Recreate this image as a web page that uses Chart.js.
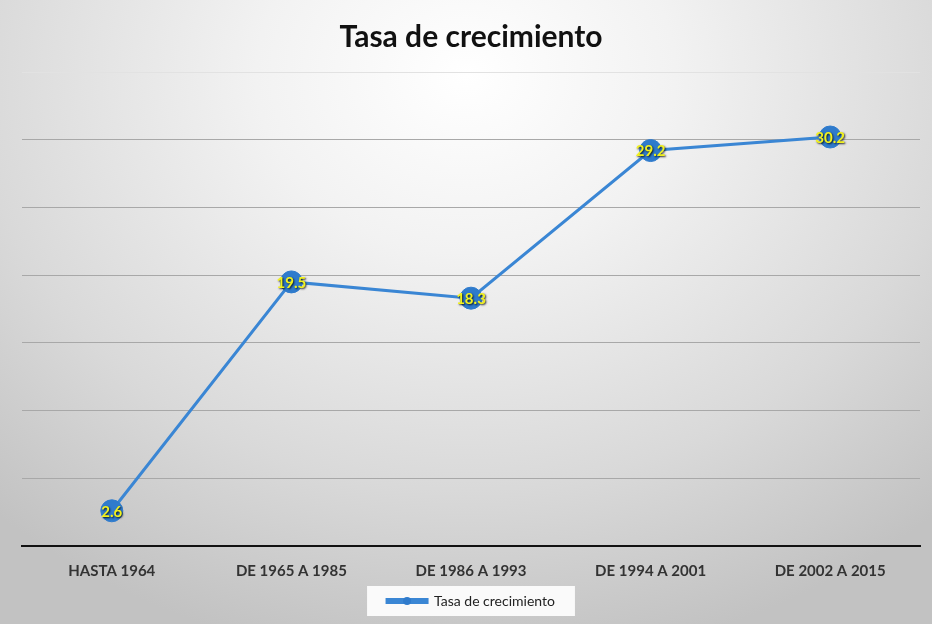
<!DOCTYPE html>
<html>
<head>
<meta charset="utf-8">
<script src="https://cdn.jsdelivr.net/npm/chart.js@4.4.0/dist/chart.umd.min.js"></script>
<style>
  html, body { margin: 0; padding: 0; }
  body { width: 932px; height: 624px; overflow: hidden; background: #d6d6d6; }
  #wrap {
    position: absolute; left: 0; top: 0; width: 932px; height: 624px;
    background: radial-gradient(ellipse 75% 95% at 50% 12%, #ffffff 0%, #f2f2f2 30%, #d9d9d9 70%, #c2c2c2 100%);
  }
  canvas { display: block; }
</style>
</head>
<body>
<div id="wrap"><canvas id="grafico" width="932" height="624"></canvas></div>
<script>
// Datos del gráfico
const categorias = ["HASTA 1964", "DE 1965 A 1985", "DE 1986 A 1993", "DE 1994 A 2001", "DE 2002 A 2015"];
const tasa = [2.6, 19.5, 18.3, 29.2, 30.2];

const azul = "#2f7bcc";
const fuente = "Lato, 'Open Sans', sans-serif";

// Etiquetas amarillas sobre cada punto
const etiquetas = {
  id: "etiquetas",
  afterDatasetsDraw(chart) {
    const ctx = chart.ctx;
    const meta = chart.getDatasetMeta(0);
    ctx.save();
    ctx.font = "bold 15px " + fuente;
    ctx.textAlign = "center";
    ctx.textBaseline = "middle";
    ctx.shadowColor = "rgba(0,0,0,0.85)";
    ctx.shadowBlur = 2;
    ctx.shadowOffsetX = 1;
    ctx.shadowOffsetY = 1;
    ctx.fillStyle = "#f2f21e";
    meta.data.forEach(function (p, i) {
      ctx.fillText(String(tasa[i]), p.x, p.y + 1);
    });
    ctx.restore();
  }
};

// Fondo blanco de la leyenda y marcador redondo
const leyenda = {
  id: "leyenda",
  beforeDraw(chart) {
    const box = chart.legend.legendHitBoxes[0];
    if (!box) return;
    const ctx = chart.ctx;
    ctx.save();
    ctx.fillStyle = "rgba(255,255,255,0.9)";
    ctx.fillRect(box.left - 20, box.top - 8, box.width + 40, box.height + 16);
    ctx.restore();
  },
  afterDraw(chart) {
    const box = chart.legend.legendHitBoxes[0];
    if (!box) return;
    const ctx = chart.ctx;
    ctx.save();
    ctx.fillStyle = azul;
    ctx.beginPath();
    ctx.arc(box.left + 20, box.top + box.height / 2, 4, 0, Math.PI * 2);
    ctx.fill();
    ctx.restore();
  }
};

new Chart("grafico", {
  type: "line",
  data: {
    labels: categorias,
    datasets: [{
      label: "Tasa de crecimiento",
      data: tasa,
      borderColor: "#3a86d4",
      backgroundColor: azul,
      borderWidth: 3,
      pointRadius: 11,
      pointBackgroundColor: azul,
      pointBorderColor: azul,
      pointBorderWidth: 1,
      tension: 0
    }]
  },
  options: {
    responsive: false,
    animation: false,
    layout: { padding: { top: 5, left: 22, right: 12, bottom: 6 } },
    plugins: {
      title: {
        display: true,
        text: "Tasa de crecimiento",
        color: "#111",
        font: { family: fuente, size: 30, weight: "bold" },
        padding: { top: 14, bottom: 17 }
      },
      legend: {
        position: "bottom",
        labels: {
          color: "#222",
          font: { family: fuente, size: 14 },
          boxWidth: 40,
          boxHeight: 3,
          padding: 10
        }
      },
      tooltip: { enabled: false }
    },
    scales: {
      x: {
        offset: true,
        grid: { display: false, drawTicks: false, offset: true },
        border: { display: true, color: "#111", width: 2 },
        ticks: {
          color: "#333",
          font: { family: fuente, size: 15, weight: "bold" },
          padding: 16
        },
        afterFit: function (axis) { axis.height = 38; }
      },
      y: {
        min: 0,
        max: 35,
        ticks: { display: false, stepSize: 5 },
        border: { display: false },
        grid: {
          drawTicks: false,
          lineWidth: 1,
          color: function (c) { return c.tick.value === 35 ? "#e2e2e2" : "#a8a8a8"; }
        }
      }
    }
  },
  plugins: [etiquetas, leyenda]
});
</script>
</body>
</html>
